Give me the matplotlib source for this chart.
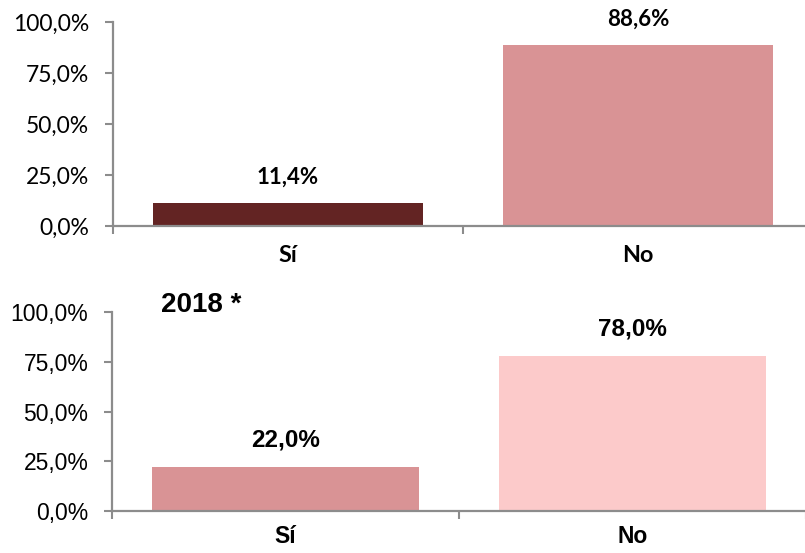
import matplotlib
matplotlib.use("Agg")
import matplotlib.pyplot as plt
from matplotlib.ticker import FuncFormatter

# data
categories = ["Sí", "No"]
top_values = [11.4, 88.6]
bottom_values = [22.0, 78.0]
top_colors = ["#632423", "#D99395"]
bottom_colors = ["#D99395", "#FCCACA"]
yticks = [0, 25, 50, 75, 100]
bottom_title = "2018 *"

axis_gray = "#8C8C8C"


def pct(v, pos=None):
    return ("%.1f%%" % v).replace(".", ",")


def draw_panel(ax, values, colors, font, tick_size, val_size, cat_size, cat_pad):
    x = list(range(len(categories)))
    ax.bar(x, values, width=0.77, color=colors, zorder=2)
    ax.set_xlim(-0.5, len(categories) - 0.5)
    ax.set_ylim(0, 100)
    ax.set_yticks(yticks)
    ax.yaxis.set_major_formatter(FuncFormatter(pct))
    ax.tick_params(axis="y", labelsize=tick_size, labelfontfamily=font, pad=11)
    # category boundaries as major ticks, names as minor ticks
    ax.set_xticks([i - 0.5 for i in range(len(categories) + 1)])
    ax.set_xticklabels([])
    ax.set_xticks(x, minor=True)
    ax.set_xticklabels(categories, minor=True, fontfamily=font,
                       fontsize=cat_size, fontweight="bold")
    ax.tick_params(axis="x", which="minor", length=0, pad=cat_pad)
    ax.tick_params(axis="both", which="major", length=6, width=1.5,
                   color=axis_gray, direction="out")
    for s in ["top", "right"]:
        ax.spines[s].set_visible(False)
    for s in ["left", "bottom"]:
        ax.spines[s].set_color(axis_gray)
        ax.spines[s].set_linewidth(1.6)
    for xi, v in zip(x, values):
        ax.annotate(pct(v), (xi, v), xytext=(0, 11), textcoords="offset points",
                    ha="center", va="bottom", fontfamily=font,
                    fontsize=val_size, fontweight="bold")


fig = plt.figure(figsize=(8.05, 5.53), dpi=100)

ax1 = fig.add_axes([113 / 805, 327 / 553, 700 / 805, 204 / 553])
draw_panel(ax1, top_values, top_colors, "Lato", 16.5, 16, 16.8, 14)

ax2 = fig.add_axes([112 / 805, 42 / 553, 694 / 805, 199 / 553])
draw_panel(ax2, bottom_values, bottom_colors, "Liberation Sans", 16.5, 17.5, 16.5, 10)

fig.text(201 / 805, 1 - 305 / 553, bottom_title, ha="center", va="center",
         fontfamily="Liberation Sans", fontsize=20, fontweight="bold")

fig.savefig("out.png", dpi=100)
